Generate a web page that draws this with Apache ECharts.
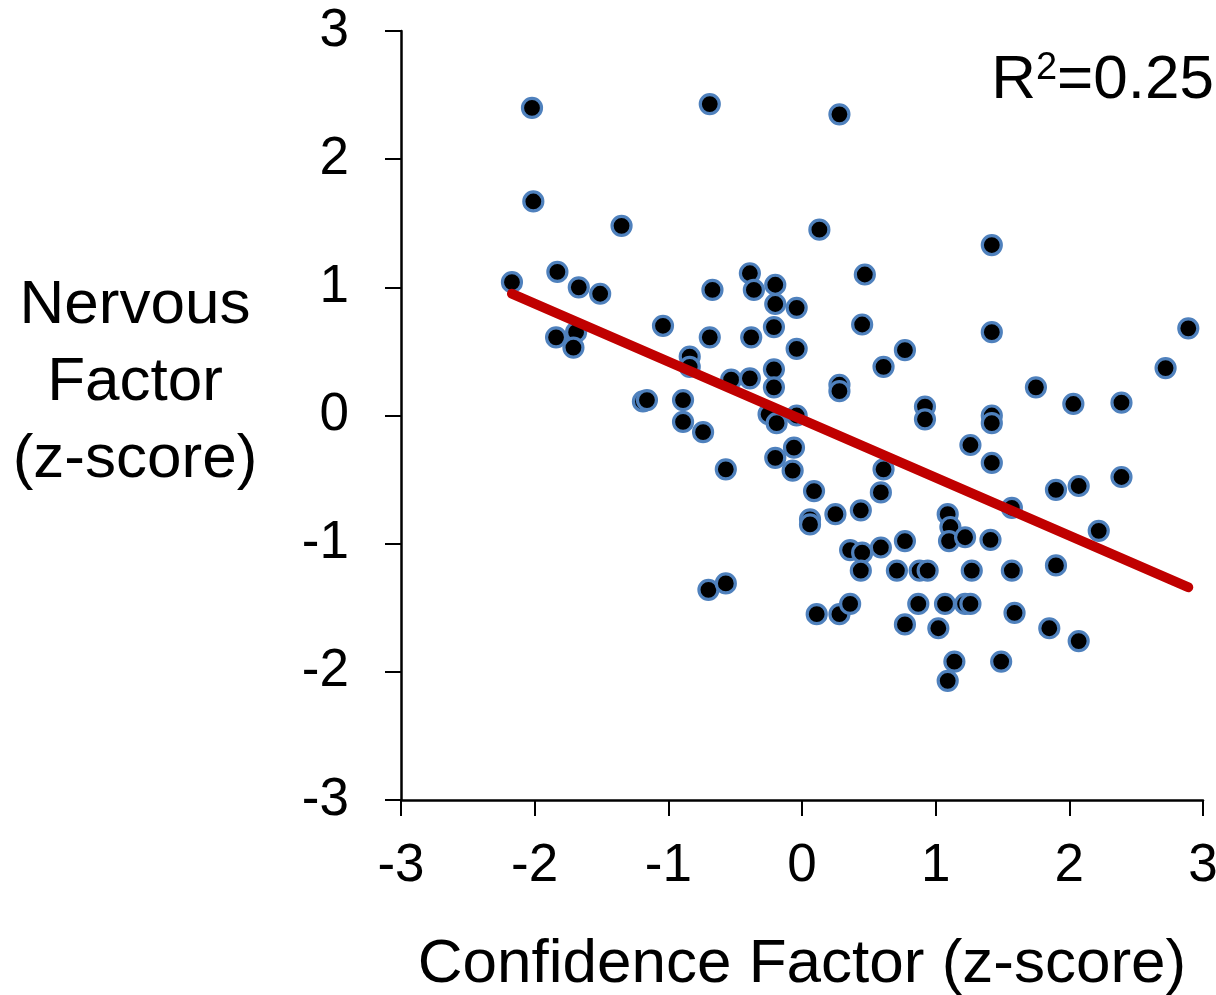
<!DOCTYPE html>
<html><head><meta charset="utf-8">
<script src="https://cdn.jsdelivr.net/npm/echarts@6/dist/echarts.min.js"></script>
<style>html,body{margin:0;padding:0;background:#fff}#chart{width:1216px;height:995px}</style>
</head><body><div id="chart"></div>
<script>
// Data
const confidenceX = [-2.02, -0.69, -2.01, -1.35, -2.17, -1.83, -1.67, -1.51, -0.67, -0.39,
  -0.36, 0.28, 0.13, 0.47, -0.20, 1.42, -1.04, -1.84, -1.69, -1.71,
  -0.69, -0.38, -0.84, -0.84, -0.53, -0.39, -1.19, -1.16, -0.89, -0.89,
  -0.74, -0.57, -0.20, -0.04, 0.45, -0.21, -0.04, 0.77, 0.61, -0.21,
  -0.21, 0.28, 0.28, 0.92, 0.92, -0.25, -0.04, -0.19, -0.06, -0.20,
  -0.07, 0.61, 1.42, 2.89, 2.72, 1.75, 2.03, 2.39, 1.42, 1.42,
  1.26, 1.42, 2.39, 0.09, 0.59, 0.06, 0.06, 0.25, 0.44, 0.36,
  0.45, 0.59, 0.44, -0.70, -0.57, 0.11, 0.28, 0.36, 1.57, 1.90,
  2.07, 2.22, 1.09, 1.11, 1.10, 1.22, 1.41, 0.77, 0.71, 0.88,
  0.94, 1.27, 1.57, 1.90, 0.87, 1.07, 1.22, 1.26, 1.59, 0.77,
  1.02, 1.85, 2.07, 1.14, 1.49, 1.09];
const nervousY = [2.40, 2.43, 1.67, 1.48, 1.04, 1.12, 1.00, 0.95, 0.98, 1.11,
  0.98, 2.35, 1.45, 1.10, 1.02, 1.33, 0.70, 0.61, 0.65, 0.53,
  0.61, 0.61, 0.46, 0.38, 0.28, 0.29, 0.11, 0.12, 0.12, -0.05,
  -0.13, -0.42, 0.87, 0.84, 0.71, 0.69, 0.52, 0.51, 0.38, 0.36,
  0.22, 0.24, 0.19, 0.07, -0.03, 0.01, 0.00, -0.06, -0.25, -0.33,
  -0.43, -0.42, 0.65, 0.68, 0.37, 0.22, 0.09, 0.10, 0.00, -0.06,
  -0.23, -0.37, -0.48, -0.59, -0.60, -0.81, -0.85, -0.77, -0.74, -1.05,
  -1.07, -1.03, -1.21, -1.36, -1.31, -1.55, -1.55, -1.47, -0.72, -0.58,
  -0.55, -0.90, -0.77, -0.87, -0.98, -0.95, -0.97, -0.98, -1.21, -1.21,
  -1.21, -1.21, -1.21, -1.17, -1.47, -1.47, -1.47, -1.47, -1.54, -1.63,
  -1.66, -1.66, -1.76, -1.92, -1.92, -2.07];
const trendX = [-2.17, 2.89];
const trendY = [0.95, -1.34];
const xAxisTitle = 'Confidence Factor (z-score)';
const yAxisTitleLines = ['Nervous', 'Factor', '(z-score)'];
const rSquaredValue = '0.25';

const FONT = '"Liberation Sans", Arial, sans-serif';
const points = confidenceX.map((x, i) => [x, nervousY[i]]);
const trendPoints = trendX.map((x, i) => [x, trendY[i]]);

const chart = echarts.init(document.getElementById('chart'));
chart.setOption({
  animation: false,
  backgroundColor: '#fff',
  grid: { left: 401, right: 13, top: 31, bottom: 195, containLabel: false, outerBoundsMode: 'none' },
  xAxis: {
    type: 'value', min: -3, max: 3, interval: 1,
    name: xAxisTitle, nameLocation: 'middle', nameGap: 134,
    nameTextStyle: { fontSize: 62, color: '#000', fontFamily: FONT },
    axisLine: { show: true, onZero: false, lineStyle: { color: '#000', width: 2.5 } },
    axisTick: { show: true, inside: false, length: 16, lineStyle: { color: '#000', width: 2 } },
    axisLabel: { fontSize: 53, color: '#000', fontFamily: FONT, margin: 40 },
    splitLine: { show: false }
  },
  yAxis: {
    type: 'value', min: -3, max: 3, interval: 1,
    axisLine: { show: true, onZero: false, lineStyle: { color: '#000', width: 2.5 } },
    axisTick: { show: true, inside: false, length: 16, lineStyle: { color: '#000', width: 2 } },
    axisLabel: { fontSize: 53, color: '#000', fontFamily: FONT, margin: 52 },
    splitLine: { show: false }
  },
  graphic: [
    { type: 'text', x: 135, y: 383, style: {
        text: yAxisTitleLines.join('\n'), fontSize: 62, fontFamily: FONT, lineHeight: 77,
        fill: '#000', align: 'center', verticalAlign: 'middle' } },
    { type: 'text', x: 1214, y: 50, style: {
        text: '{a|R}{b|2}{a|=' + rSquaredValue + '}', align: 'right', verticalAlign: 'top',
        rich: {
          a: { fontSize: 62, fontFamily: FONT, fill: '#000', color: '#000', lineHeight: 62 },
          b: { fontSize: 38, fontFamily: FONT, fill: '#000', color: '#000', lineHeight: 34, verticalAlign: 'top' }
        } } }
  ],
  series: [
    { type: 'scatter', data: points, symbol: 'circle', symbolSize: 19,
      itemStyle: { color: '#000', borderColor: '#4F81BD', borderWidth: 3.2, opacity: 1 },
      z: 2 },
    { type: 'line', data: trendPoints, showSymbol: false, symbol: 'none',
      lineStyle: { color: '#C00000', width: 10, cap: 'round' }, z: 3 }
  ]
});
</script>
</body></html>
